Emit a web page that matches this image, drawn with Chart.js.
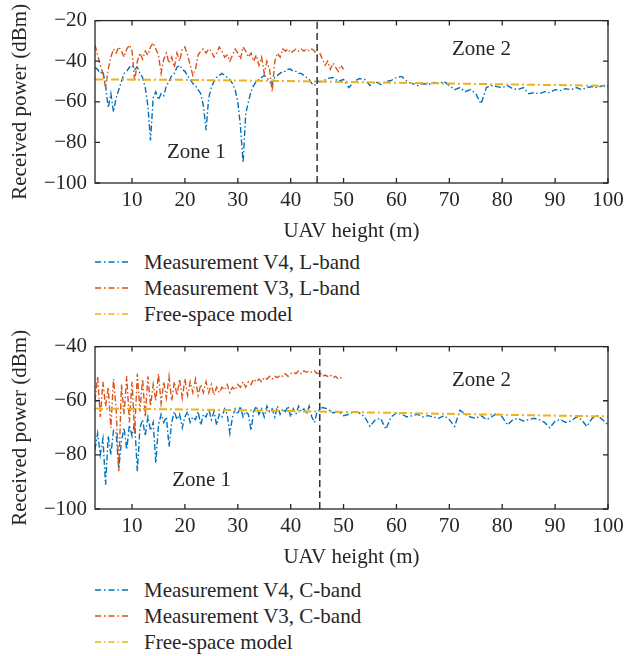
<!DOCTYPE html>
<html>
<head>
<meta charset="utf-8">
<script src="https://cdn.jsdelivr.net/npm/chart.js@4.4.1/dist/chart.umd.min.js"></script>
<style>
body{margin:0;background:#fff;width:629px;height:656px;position:relative;overflow:hidden;font-family:"Liberation Serif",serif;color:#262626}
canvas{position:absolute;left:0}
.legend{position:absolute;left:95px;font-size:21px}
.legend div{display:flex;align-items:center;height:26px;white-space:nowrap}
.legend svg{width:36px;height:4px;margin-right:13px}
</style>
</head>
<body>
<canvas id="chartL" width="629" height="244" style="top:0"></canvas>
<div class="legend" id="legendL" style="top:249px"></div>
<canvas id="chartC" width="629" height="244" style="top:326px"></canvas>
<div class="legend" id="legendC" style="top:577px"></div>
<script>
// heights (m): zone 1 sampled every 0.5 m, zone 2 every 1 m
const range = (a,b,s)=>{const r=[];for(let v=a;v<=b+1e-9;v+=s)r.push(+v.toFixed(2));return r}
const heightsV4 = range(3,45,0.5).concat(range(46,100,1))
const heightsV3 = range(3,50,0.5)
const heightsFS = [3,20,40,60,80,100]

const xTicks = [10,20,30,40,50,60,70,80,90,100]
const yTicksL = [-100,-80,-60,-40,-20]
const yTicksC = [-100,-80,-60,-40]

// L-band (upper panel)
const v4L = [
  -43,-44,-46,-45,-52,-63,-56,-65,-58,-54,
  -50,-46,-45,-43,-42,-44,-43,-46,-48,-53,
  -62,-79,-58,-55,-59,-56,-57,-52,-50,-47,
  -46,-43,-42,-44,-45,-47,-49,-51,-52,-54,
  -56,-62,-74,-58,-53,-50,-48,-47,-46,-47,
  -48,-49,-51,-54,-60,-72,-90,-66,-60,-55,
  -52,-50,-49,-48,-47,-48,-50,-51,-48,-47,
  -46,-45,-45,-44,-44,-45,-45,-46,-46,-47,
  -48,-49,-51,-52,-50,
  -50,-48.5,-48,-50,-49,-53,-50,-48.5,-49,-52,
  -50,-51.5,-50,-49.5,-48,-47.5,-50,-51,-52,-51,
  -51.5,-50.5,-51,-50,-52,-54,-53,-55,-54,-56,
  -61,-53,-52,-52.5,-53,-52,-53.5,-54,-53,-56,
  -55.5,-56,-55,-55.5,-54,-54.5,-53.5,-54,-53,-54,
  -53,-52.5,-53,-52,-52.5
]
const v3L = [
  -32,-37,-42,-46,-53,-44,-38,-34,-36,-33,
  -35,-38,-34,-32,-35,-50,-40,-36,-39,-35,
  -37,-33,-31,-34,-37,-46,-39,-36,-41,-38,
  -43,-36,-40,-34,-33,-37,-42,-47,-44,-37,
  -35,-34,-36,-34,-35,-38,-36,-33,-35,-38,
  -37,-40,-37,-34,-36,-39,-33,-35,-38,-36,
  -40,-37,-42,-38,-46,-40,-44,-55,-40,-36,
  -38,-34,-35,-34,-36,-35,-34,-35,-34,-35,
  -34,-35,-34,-35,-37,-36,-39,-42,-40,-44,
  -41,-43,-45,-42,-44
]
const fsL = [-49,-49.2,-49.8,-50.6,-51.4,-52.1]

// C-band (lower panel)
const v4C = [
  -78,-72,-80,-74,-91,-73,-80,-71,-72,-85,
  -75,-70,-78,-69,-73,-68,-86,-70,-67,-73,
  -66,-71,-68,-83,-69,-65,-68,-66,-77,-68,
  -64,-67,-65,-70,-66,-64,-68,-66,-67,-64,
  -69,-65,-66,-63,-67,-64,-69,-65,-66,-63,
  -65,-72,-66,-63,-65,-62,-66,-64,-65,-71,
  -64,-62,-65,-63,-66,-62,-64,-63,-66,-62,
  -65,-63,-64,-62,-66,-63,-65,-62,-64,-63,
  -65,-62,-66,-68,-64,
  -62.5,-63,-64.5,-64,-65.5,-65,-64,-64.5,-66,-69.5,
  -67,-66.5,-70.5,-66,-64.5,-65,-66,-65.5,-65,-66,
  -65.5,-66,-66.5,-65.5,-67,-69.5,-63.5,-65,-66,-66.5,
  -65.5,-67,-66,-64.5,-66,-69,-67,-66.5,-67.5,-67,
  -66.5,-67,-68,-70,-67.5,-67,-68,-67.5,-66,-67,
  -69.5,-66.5,-65.5,-67,-69
]
const v3C = [
  -60,-51,-66,-53,-62,-55,-70,-52,-63,-86,
  -54,-65,-51,-68,-53,-72,-50,-64,-52,-66,
  -51,-62,-54,-60,-50,-61,-53,-59,-51,-60,
  -53,-58,-52,-59,-52,-58,-53,-57,-52,-58,
  -54,-57,-53,-57,-54,-58,-55,-57,-55,-56,
  -54,-57,-55,-56,-54,-55,-53,-55,-53,-54,
  -52,-53,-52,-53,-51.5,-52,-51,-52,-51,-51.5,
  -50.5,-51,-50,-51,-50,-49.5,-50,-49,-50,-49,
  -49.5,-49,-49.5,-49,-50,-49.5,-51,-50.5,-51,-50.5,
  -51.5,-51,-52,-51.5,-52
]
const fsC = [-62.9,-63.2,-63.8,-64.5,-65.2,-65.8]

const zoneEdgeL = 45
const zoneEdgeC = 45.5
const zonesL = [{text:'Zone 1',h:16.6,v:-84.8},{text:'Zone 2',h:70.5,v:-34.3}]
const zonesC = [{text:'Zone 1',h:17.6,v:-89.4},{text:'Zone 2',h:70.5,v:-52.6}]

const labelsL = ['Measurement V4, L-band','Measurement V3, L-band','Free-space model']
const labelsC = ['Measurement V4, C-band','Measurement V3, C-band','Free-space model']

const blue = '#0072BD'
const red = '#D95319'
const gold = '#EDB120'
const ink = '#262626'
const font = {family:'Liberation Serif',size:21}
const dashDot = [6,2.5,1.5,2.5]

const pts = (xs,ys)=>xs.map((x,i)=>({x,y:ys[i]}))

const frameTicks = {
  id:'frameTicks',
  afterDatasetsDraw(chart,args,opts){
    const {ctx,chartArea:a,scales:{x,y}} = chart
    ctx.save()
    ctx.strokeStyle = ink
    ctx.lineWidth = 1.3
    ctx.strokeRect(a.left,a.top,a.width,a.height)
    ctx.beginPath()
    x.ticks.forEach(t=>{
      const px = x.getPixelForValue(t.value)
      ctx.moveTo(px,a.bottom);ctx.lineTo(px,a.bottom-5)
      ctx.moveTo(px,a.top);ctx.lineTo(px,a.top+5)
    })
    y.ticks.forEach(t=>{
      const py = y.getPixelForValue(t.value)
      ctx.moveTo(a.left,py);ctx.lineTo(a.left+5,py)
      ctx.moveTo(a.right,py);ctx.lineTo(a.right-5,py)
    })
    ctx.stroke()
    ctx.fillStyle = ink
    ctx.font = '21px "Liberation Serif"'
    ctx.textBaseline = 'middle'
    opts.zones.forEach(z=>ctx.fillText(z.text,x.getPixelForValue(z.h),y.getPixelForValue(z.v)))
    ctx.restore()
  }
}

function makeChart(id,v4,v3,fs,labels,yTicks,edge,zones){
  const yMin = yTicks[0], yMax = yTicks[yTicks.length-1]
  return new Chart(document.getElementById(id),{
    type:'line',
    data:{
      datasets:[
        {label:'edge',data:[{x:edge,y:yMin},{x:edge,y:yMax}],borderColor:'#333',borderWidth:1.5,borderDash:[7,4],pointRadius:0,order:0},
        {label:labels[2],data:pts(heightsFS,fs),borderColor:gold,borderWidth:2,borderDash:[8,3,2,3],pointRadius:0,order:1},
        {label:labels[1],data:pts(heightsV3,v3),borderColor:red,borderWidth:1.4,borderDash:dashDot,pointRadius:0,order:2},
        {label:labels[0],data:pts(heightsV4,v4),borderColor:blue,borderWidth:1.4,borderDash:dashDot,pointRadius:0,order:3}
      ]
    },
    options:{
      responsive:false,
      animation:false,
      layout:{padding:{top:15,right:21,left:0,bottom:0}},
      plugins:{legend:{display:false},tooltip:{enabled:false},frameTicks:{zones}},
      scales:{
        x:{
          type:'linear',min:3,max:100,
          afterBuildTicks:s=>{s.ticks=xTicks.map(v=>({value:v}))},
          afterFit:s=>{s.height=61},
          grid:{display:false,drawTicks:false},
          border:{display:false},
          ticks:{color:ink,font,padding:5,maxRotation:0,autoSkip:false},
          title:{display:true,text:'UAV height (m)',color:ink,font,padding:0}
        },
        y:{
          min:yMin,max:yMax,
          afterBuildTicks:s=>{s.ticks=yTicks.map(v=>({value:v}))},
          afterFit:s=>{s.width=95},
          grid:{display:false,drawTicks:false},
          border:{display:false},
          ticks:{color:ink,font,padding:8,callback:v=>String(v).replace('-','\u2212')},
          title:{display:true,text:'Received power (dBm)',color:ink,font,padding:{top:8,bottom:0}}
        }
      }
    },
    plugins:[frameTicks]
  })
}

function makeLegend(id,labels){
  const colors = [blue,red,gold]
  document.getElementById(id).innerHTML = labels.map((t,i)=>
    '<div><svg viewBox="0 0 36 4"><line x1="0" y1="2" x2="36" y2="2" stroke="'+colors[i]+'" stroke-width="1.5" stroke-dasharray="6 3 1.5 3"/></svg><span>'+t+'</span></div>'
  ).join('')
}

makeChart('chartL',v4L,v3L,fsL,labelsL,yTicksL,zoneEdgeL,zonesL)
makeChart('chartC',v4C,v3C,fsC,labelsC,yTicksC,zoneEdgeC,zonesC)
makeLegend('legendL',labelsL)
makeLegend('legendC',labelsC)
</script>
</body>
</html>
